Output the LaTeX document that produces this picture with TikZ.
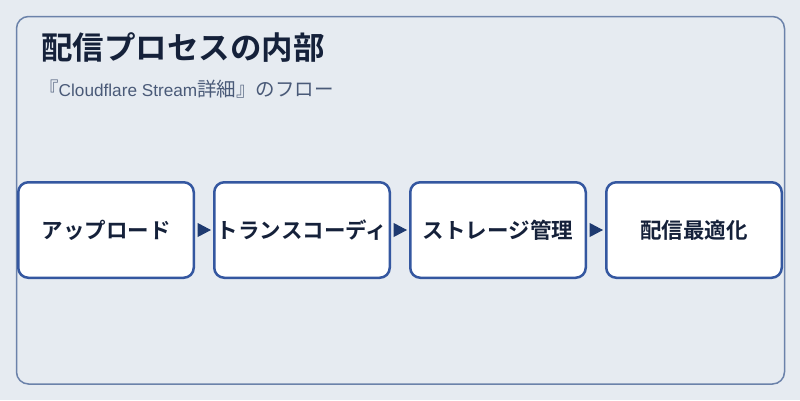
\documentclass[tikz,border=0pt]{standalone}
\usepackage{fontspec}
\setmainfont{Noto Sans CJK JP}[BoldFont={* Bold}]
\newfontfamily\latinf{Liberation Sans}
\usetikzlibrary{arrows.meta}
\definecolor{bgc}{HTML}{E6EBF1}
\definecolor{framec}{HTML}{6B82AA}
\definecolor{boxc}{HTML}{3457A0}
\definecolor{arrc}{HTML}{1E3A70}
\definecolor{titlec}{HTML}{15213A}
\definecolor{subc}{HTML}{4A5A78}
\tikzset{
  stepbox/.style={draw=boxc, fill=white, line width=2.5pt, rounded corners=10pt,
    minimum width=175.5pt, minimum height=95.5pt, inner sep=0pt,
    font=\fontsize{21.5pt}{24pt}\selectfont\bfseries, text=titlec},
  flow/.style={draw=arrc, line width=1pt, shorten <=2.5pt, shorten >=2pt,
    -{Triangle[length=13.5pt,width=14pt]}, arrc}
}
\begin{document}
\begin{tikzpicture}[x=1pt,y=-1pt]
\useasboundingbox (0,0) rectangle (800,400);
\fill[bgc] (0,0) rectangle (800,400);
\draw[framec, line width=1.5pt, rounded corners=12pt] (16.5,16.5) rectangle (784.5,384);
\node[anchor=base west, inner sep=0pt, text=titlec, font=\fontsize{31.5pt}{36pt}\selectfont\bfseries] (title) at (41,59) {配信プロセスの内部};
\node[anchor=base west, inner sep=0pt, text=subc, font=\fontsize{19.5pt}{22pt}\selectfont] (sub) at (39,96.5) {『{\latinf\fontsize{17.2pt}{20pt}\selectfont Cloudflare Stream}詳細』のフロー};
\node[stepbox] (b1) at (106,230) {アップロード};
\node[stepbox] (b2) at (302,230) {トランスコーディ};
\node[stepbox] (b3) at (498,230) {ストレージ管理};
\node[stepbox] (b4) at (694,230) {配信最適化};
\draw[flow] (b1) -- (b2);
\draw[flow] (b2) -- (b3);
\draw[flow] (b3) -- (b4);
\end{tikzpicture}
\end{document}
